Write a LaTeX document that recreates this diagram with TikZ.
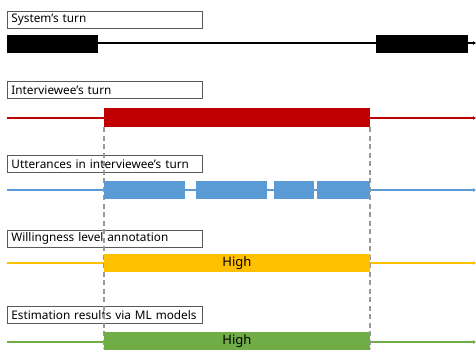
\documentclass[tikz,border=0pt]{standalone}
\usepackage{fontspec}
\setmainfont{Noto Sans}
\usetikzlibrary{arrows.meta}
\definecolor{turnred}{HTML}{C00000}
\definecolor{uttblue}{HTML}{5B9BD5}
\definecolor{annyellow}{HTML}{FFC000}
\definecolor{estgreen}{HTML}{70AD47}
\begin{document}
\begin{tikzpicture}[x=1pt,y=-1pt,
  lbl/.style={draw=black!65, line width=0.8pt, anchor=north west, minimum height=17pt,
    text width=187pt, inner xsep=4pt, inner ysep=0pt, align=left,
    font=\fontsize{11.8}{13}\selectfont},
  bar/.style={anchor=north west, inner sep=0pt, outer sep=0pt, minimum height=18pt,
    font=\fontsize{13}{14}\selectfont},
  track/.style={line width=1.3pt, -{Triangle[length=3pt,width=3.5pt]}},
  guide/.style={draw=black!40, line width=1.1pt, dash pattern=on 5pt off 3.5pt}]
\useasboundingbox (0,0) rectangle (476,349);

% row labels
\node[lbl] (l1) at (7,11)  {System's turn};
\node[lbl] (l2) at (7,81)  {Interviewee's turn};
\node[lbl] (l3) at (7,155) {Utterances in interviewee's turn};
\node[lbl] (l4) at (7,230) {Willingness level annotation};
\node[lbl] (l5) at (7,306) {Estimation results via ML models};

% time axes of the five rows
\coordinate (a1) at (7,43);   \coordinate (b1) at (476,43);
\coordinate (a2) at (7,118);  \coordinate (b2) at (476,118);
\coordinate (a3) at (7,190);  \coordinate (b3) at (476,190);
\coordinate (a4) at (7,263);  \coordinate (b4) at (476,263);
\coordinate (a5) at (7,342);  \coordinate (b5) at (476,342);
\draw[track, black]     (a1) -- (b1);
\draw[track, turnred]   (a2) -- (b2);
\draw[track, uttblue]   (a3) -- (b3);
\draw[track, annyellow] (a4) -- (b4);
\draw[track, estgreen]  (a5) -- (b5);

% interviewee's turn span (bar drawn first so the guides can hang from it)
\node[bar, fill=turnred, minimum width=266pt, minimum height=19pt] (r1) at (104,108) {};
\coordinate (g1) at (104,349);
\coordinate (g2) at (370,349);
\draw[guide] (r1.south west) -- (g1);
\draw[guide] (r1.south east) -- (g2);

% system's turns
\node[bar, fill=black, minimum width=91pt] (s1) at (7,35) {};
\node[bar, fill=black, minimum width=92pt] (s2) at (376,35) {};

% utterances
\node[bar, fill=uttblue, minimum width=81pt] (u1) at (104,181) {};
\node[bar, fill=uttblue, minimum width=71pt] (u2) at (196,181) {};
\node[bar, fill=uttblue, minimum width=40pt] (u3) at (274,181) {};
\node[bar, fill=uttblue, minimum width=53pt] (u4) at (317,181) {};

% annotation and estimate
\node[bar, fill=annyellow, minimum width=266pt] (h1) at (104,254) {High};
\node[bar, fill=estgreen,  minimum width=266pt] (h2) at (104,332) {High};
\end{tikzpicture}
\end{document}
